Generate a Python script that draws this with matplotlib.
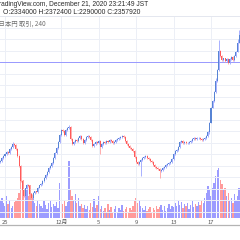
import matplotlib
matplotlib.use("Agg")
import matplotlib.pyplot as plt
from matplotlib.lines import Line2D
import numpy as np

# 4h candles, BTC/JPY, closes in yen (first candle ~ Nov 24 12:00)
closes = [1872000, 1885000, 1893000, 1902000, 1910000, 1906000, 1923000, 1932000, 1944000, 1940000,
          1923000, 1893000, 1850000, 1786000, 1744000, 1718000, 1752000, 1769000, 1761000, 1726000,
          1709000, 1731000, 1739000, 1735000, 1756000, 1765000, 1773000, 1786000, 1799000, 1812000,
          1825000, 1842000, 1850000, 1863000, 1885000, 1906000, 1927000, 1953000, 1983000, 2004000,
          2000000, 1983000, 2004000, 2013000, 2017000, 1966000, 1944000, 1953000, 1962000, 1957000,
          1970000, 1979000, 1966000, 1949000, 1962000, 1974000, 1979000, 1974000, 1962000, 1936000,
          1944000, 1953000, 1949000, 1957000, 1932000, 1944000, 1953000, 1949000, 1957000, 1953000,
          1962000, 1957000, 1949000, 1953000, 1962000, 1966000, 1970000, 1974000, 1979000, 1974000,
          1957000, 1944000, 1936000, 1927000, 1923000, 1915000, 1889000, 1868000, 1859000, 1868000,
          1876000, 1885000, 1889000, 1893000, 1885000, 1880000, 1872000, 1868000, 1855000, 1846000,
          1842000, 1838000, 1829000, 1833000, 1842000, 1846000, 1855000, 1859000, 1863000, 1868000,
          1880000, 1902000, 1915000, 1919000, 1932000, 1953000, 1957000, 1949000, 1953000, 1949000,
          1949000, 1953000, 1957000, 1966000, 1970000, 1966000, 1970000, 1970000, 1966000, 1962000,
          1966000, 1970000, 1979000, 1996000, 2038000, 2103000, 2132000, 2171000, 2218000, 2265000,
          2350000, 2325000, 2308000, 2316000, 2303000, 2312000, 2295000, 2312000, 2321000, 2308000,
          2325000, 2346000, 2385000, 2419000]
first_open = 1865000

# extra wick extremes (candle index -> price)
extra_highs = {8: 1952000, 44: 2028000, 138: 2232000, 140: 2397000, 152: 2400000, 153: 2440000}
extra_lows = {14: 1730000, 20: 1700000, 64: 1902000, 90: 1808000, 102: 1799000, 134: 1990000}

volumes = [18, 20, 15, 12, 22, 14, 18, 10, 12, 16,
           17, 20, 25, 40, 35, 38, 28, 30, 22, 33,
           25, 20, 15, 12, 18, 14, 12, 10, 17, 13,
           9, 15, 18, 11, 14, 12, 16, 10, 35, 20,
           14, 18, 12, 16, 57, 28, 22, 18, 24, 15,
           20, 12, 14, 10, 13, 9, 12, 8, 15, 11,
           19, 10, 13, 22, 9, 12, 7, 10, 6, 14,
           8, 11, 5, 9, 12, 6, 10, 8, 13, 7,
           9, 11, 6, 10, 8, 12, 17, 20, 15, 18,
           12, 10, 8, 12, 7, 9, 11, 6, 10, 8,
           12, 9, 11, 13, 8, 12, 7, 10, 14, 9,
           12, 11, 15, 12, 17, 13, 16, 10, 14, 12,
           15, 9, 13, 17, 11, 14, 12, 16, 13, 18,
           15, 20, 25, 32, 28, 22, 30, 35, 42, 48,
           50, 38, 34, 28, 30, 22, 25, 18, 20, 15,
           24, 18, 22, 30]

tick_pos = [3, 39, 63, 87, 111, 135]
tick_labels = ["25", "12月", "5", "9", "13", "17"]
hline_price = 2302000

header1 = "TradingView.com, December 21, 2020 23:21:49 JST"
header2 = "O:2334000 H:2372400 L:2290000 C:2357920"
header3 = "ビットコイン / 日本円 取引, 240"

UP_BODY, UP_WICK = "#5784d4", "#9aa4ff"
DN_BODY, DN_WICK = "#ff5a5a", "#ffa0a0"
VOL_UP, VOL_DN = "#9191ff", "#ff9090"

W, H = 240, 240
fig = plt.figure(figsize=(W / 100, H / 100), dpi=100)
fig.patch.set_facecolor("white")

top_px, bot_px = 16, 218
ax = fig.add_axes([0, 1 - bot_px / H, 1, (bot_px - top_px) / H])
axv = ax.twinx()
ax.set_zorder(axv.get_zorder() + 1)
ax.patch.set_visible(False)

n = len(closes)
opens = [first_open] + closes[:-1]
wick = 4000
highs = [max(o, c) + wick for o, c in zip(opens, closes)]
lows = [min(o, c) - wick for o, c in zip(opens, closes)]
for k, v in extra_highs.items():
    highs[k] = max(highs[k], v)
for k, v in extra_lows.items():
    lows[k] = min(lows[k], v)

idx = np.arange(n)
# volume
vcols = [VOL_UP if c >= o else VOL_DN for o, c in zip(opens, closes)]
axv.bar(idx, volumes[:n], width=0.85, color=vcols, alpha=0.9, linewidth=0)
axv.set_ylim(0, bot_px - top_px)
axv.axis("off")

# candles
for i in range(n):
    up = closes[i] >= opens[i]
    ax.vlines(i, lows[i], highs[i], color=UP_WICK if up else DN_WICK, linewidth=0.6, zorder=2)
    lo, hi = min(opens[i], closes[i]), max(opens[i], closes[i])
    ax.bar(i, max(hi - lo, 1500), bottom=lo, width=0.65,
           color=UP_BODY if up else DN_BODY, linewidth=0, zorder=3)

ax.axhline(hline_price, color="#9999ff", linewidth=0.7, zorder=1)

ypix_per = 4274.0
p_top = 2000000 + (130 - top_px) * ypix_per
p_bot = 2000000 - (bot_px - 130) * ypix_per
ax.set_ylim(p_bot, p_top)
ax.set_xlim(-0.32 / 1.5606, (240 - 0.32) / 1.5606)

ax.set_yticks(np.arange(1650000, 2500001, 50000))
ax.set_yticklabels([])
ax.set_xticks(tick_pos)
ax.set_xticklabels(tick_labels, fontsize=4.2, color="#555555",
                   family=["Noto Sans CJK JP", "DejaVu Sans"])
ax.tick_params(axis="both", length=0, pad=1.2)
ax.tick_params(axis="y", left=False, labelleft=False, right=False, labelright=False)
ax.grid(True, color="#eceff6", linewidth=0.7, zorder=0)
ax.set_axisbelow(True)
for s in ["left", "right", "bottom"]:
    ax.spines[s].set_visible(False)
ax.spines["top"].set_color("#e3e6ee")
ax.spines["top"].set_linewidth(0.6)

# bottom axis border line
fig.add_artist(Line2D([0, 1], [1 - 225 / H, 1 - 225 / H], color="#b4b4b4", linewidth=0.9))

# header texts (left part cropped, as in the reference screenshot)
fig.text(148 / W, 1 - 5 / H, header1, ha="right", va="center", fontsize=4.78,
         color="#2a2a2a", family="Liberation Sans")
fig.text(140 / W, 1 - 13 / H, header2, ha="right", va="center", fontsize=4.85,
         color="#2a2a2a", family="Liberation Sans")
fig.text(46 / W, 1 - 24 / H, header3, ha="right", va="center", fontsize=4.6,
         color="#707070", family=["Noto Sans CJK JP", "DejaVu Sans"])

fig.savefig("out.png", dpi=100, facecolor="white")
